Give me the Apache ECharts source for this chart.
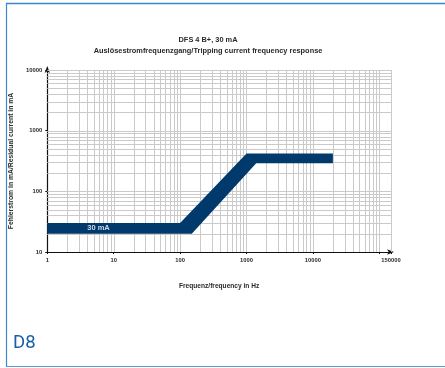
<!DOCTYPE html>
<html>
<head>
<meta charset="utf-8">
<script src="https://cdn.jsdelivr.net/npm/echarts@6/dist/echarts.min.js"></script>
<style>
html,body{margin:0;padding:0;background:#fff;}
#chart{width:445px;height:368px;}
</style>
</head>
<body>
<div id="chart"></div>
<script>
// ---- data ----
const titleLine1 = 'DFS 4 B+, 30 mA';
const titleLine2 = 'Auslösestromfrequenzgang/Tripping current frequency response';
const xAxisName = 'Frequenz/frequency in Hz';
const yAxisName = 'Fehlerstrom in mA/Residual current in mA';
const panelLabel = 'D8';

const xMin = 1, xMax = 150000;
const yMin = 10, yMax = 10000;
const xTickLabels = ['1', '10', '100', '1000', '10000', '150000'];
const yTickLabels = ['10', '100', '1000', '10000'];

// upper and lower edges of the tripping band (Hz, mA)
const upperFreq = [1, 100, 1000, 20000];
const upperCurrent = [30, 30, 420, 420];
const lowerFreq = [1, 150, 1400, 20000];
const lowerCurrent = [20, 20, 290, 290];

const bandLabel = '30 mA';
const bandLabelPos = [5.9, 24.5];

// log-paper grid values
const xGridValues = [2,3,4,5,6,7,8,9,10,20,30,40,50,60,70,80,90,100,200,300,400,500,600,700,800,900,1000,2000,3000,4000,5000,6000,7000,8000,9000,10000,20000,30000,40000,50000,60000,70000,80000,90000,100000,150000];
const yGridValues = [20,30,40,50,60,70,80,90,100,200,300,400,500,600,700,800,900,1000,2000,3000,4000,5000,6000,7000,8000,9000,10000];

// ---- chart ----
const chart = echarts.init(document.getElementById('chart'), null, {renderer: 'canvas'});
const gridColor = '#cacaca';
const bandColor = '#003a6c';
const txtFont = 'Liberation Sans';

function near(v, t) { return Math.abs(v - t) / t < 1e-6; }

const option = {
  animation: false,
  backgroundColor: '#fff',
  grid: {left: 46, right: 54, top: 70, bottom: 116, containLabel: false},
  xAxis: {
    type: 'log', logBase: 10, min: xMin, max: xMax,
    name: xAxisName, nameLocation: 'middle', nameGap: 31,
    nameTextStyle: {fontFamily: txtFont, fontSize: 6.6, fontWeight: 'bold', color: '#2a2a2a'},
    axisLine: {show: true, lineStyle: {color: '#111', width: 1.2}, symbol: ['none', 'arrow'], symbolSize: [4, 7], symbolOffset: [0, 3]},
    axisTick: {show: true, length: 2, lineStyle: {color: '#111', width: 1}},
    splitLine: {show: false},
    axisLabel: {
      fontFamily: txtFont, fontSize: 5.8, fontWeight: 'bold', color: '#2a2a2a', margin: 5,
      showMaxLabel: true, showMinLabel: true,
      formatter: function (v) {
        for (const s of xTickLabels) { if (near(v, Number(s))) return s; }
        return '';
      }
    }
  },
  yAxis: {
    type: 'log', logBase: 10, min: yMin, max: yMax,
    name: yAxisName, nameLocation: 'middle', nameGap: 24, nameRotate: 90,
    nameTextStyle: {fontFamily: txtFont, fontSize: 6.8, fontWeight: 'bold', color: '#2a2a2a'},
    axisLine: {show: true, lineStyle: {color: '#111', width: 1.2}, symbol: ['none', 'arrow'], symbolSize: [4, 7], symbolOffset: [0, 4]},
    axisTick: {show: true, length: 2, lineStyle: {color: '#111', width: 1}},
    splitLine: {show: false},
    axisLabel: {
      fontFamily: txtFont, fontSize: 5.9, fontWeight: 'bold', color: '#2a2a2a', margin: 5,
      formatter: function (v) {
        for (const s of yTickLabels) { if (near(v, Number(s))) return s; }
        return '';
      }
    }
  },
  graphic: [
    {type: 'line', shape: {x1: 6, y1: 3.5, x2: 445, y2: 3.5}, style: {stroke: '#3d87cc', lineWidth: 1.5}, z: 100},
    {type: 'line', shape: {x1: 6.5, y1: 3, x2: 6.5, y2: 367}, style: {stroke: '#3d87cc', lineWidth: 1.2}, z: 100},
    {type: 'line', shape: {x1: 6, y1: 366.5, x2: 445, y2: 366.5}, style: {stroke: '#5f9bd6', lineWidth: 1.2}, z: 100},
    {type: 'text', x: 208, y: 40, style: {text: titleLine1, fontFamily: txtFont, fontSize: 7.4, fontWeight: 'bold', fill: '#2a2a2a', align: 'center', verticalAlign: 'middle'}},
    {type: 'text', x: 208, y: 51, style: {text: titleLine2, fontFamily: txtFont, fontSize: 7.4, fontWeight: 'bold', fill: '#2a2a2a', align: 'center', verticalAlign: 'middle'}},
    {type: 'text', x: 13, y: 343, style: {text: panelLabel, fontFamily: 'Roboto', fontSize: 18.5, fontWeight: 400, fill: '#1b5ea8', align: 'left', verticalAlign: 'middle'}}
  ],
  series: [
    {
      type: 'custom', name: 'vgrid', silent: true, z: 1,
      data: xGridValues.map(v => [v, yMin]),
      renderItem: function (params, api) {
        const x = api.value(0);
        const p1 = api.coord([x, yMin]);
        const p2 = api.coord([x, yMax]);
        return {type: 'line', shape: {x1: Math.round(p1[0]) + 0.5, y1: p1[1], x2: Math.round(p2[0]) + 0.5, y2: p2[1]}, style: {stroke: gridColor, lineWidth: 1}};
      }
    },
    {
      type: 'custom', name: 'hgrid', silent: true, z: 1,
      data: yGridValues.map(v => [xMin, v]),
      renderItem: function (params, api) {
        const y = api.value(1);
        const p1 = api.coord([xMin, y]);
        const p2 = api.coord([xMax, y]);
        return {type: 'line', shape: {x1: p1[0], y1: Math.round(p1[1]) + 0.5, x2: p2[0], y2: Math.round(p2[1]) + 0.5}, style: {stroke: gridColor, lineWidth: 1}};
      }
    },
    {
      type: 'custom', name: 'band', silent: true, z: 5,
      data: [[xMin, yMin]],
      renderItem: function (params, api) {
        const pts = [];
        for (let i = 0; i < upperFreq.length; i++) pts.push(api.coord([upperFreq[i], upperCurrent[i]]));
        for (let i = lowerFreq.length - 1; i >= 0; i--) pts.push(api.coord([lowerFreq[i], lowerCurrent[i]]));
        return {type: 'polygon', shape: {points: pts}, style: {fill: bandColor}};
      }
    },
    {
      type: 'scatter', name: 'label', silent: true, z: 6,
      symbolSize: 0,
      data: [bandLabelPos],
      label: {show: true, position: 'inside', formatter: bandLabel, fontFamily: txtFont, fontSize: 7.5, fontWeight: 'bold', color: '#fff'}
    }
  ]
};
chart.setOption(option);
</script>
</body>
</html>
